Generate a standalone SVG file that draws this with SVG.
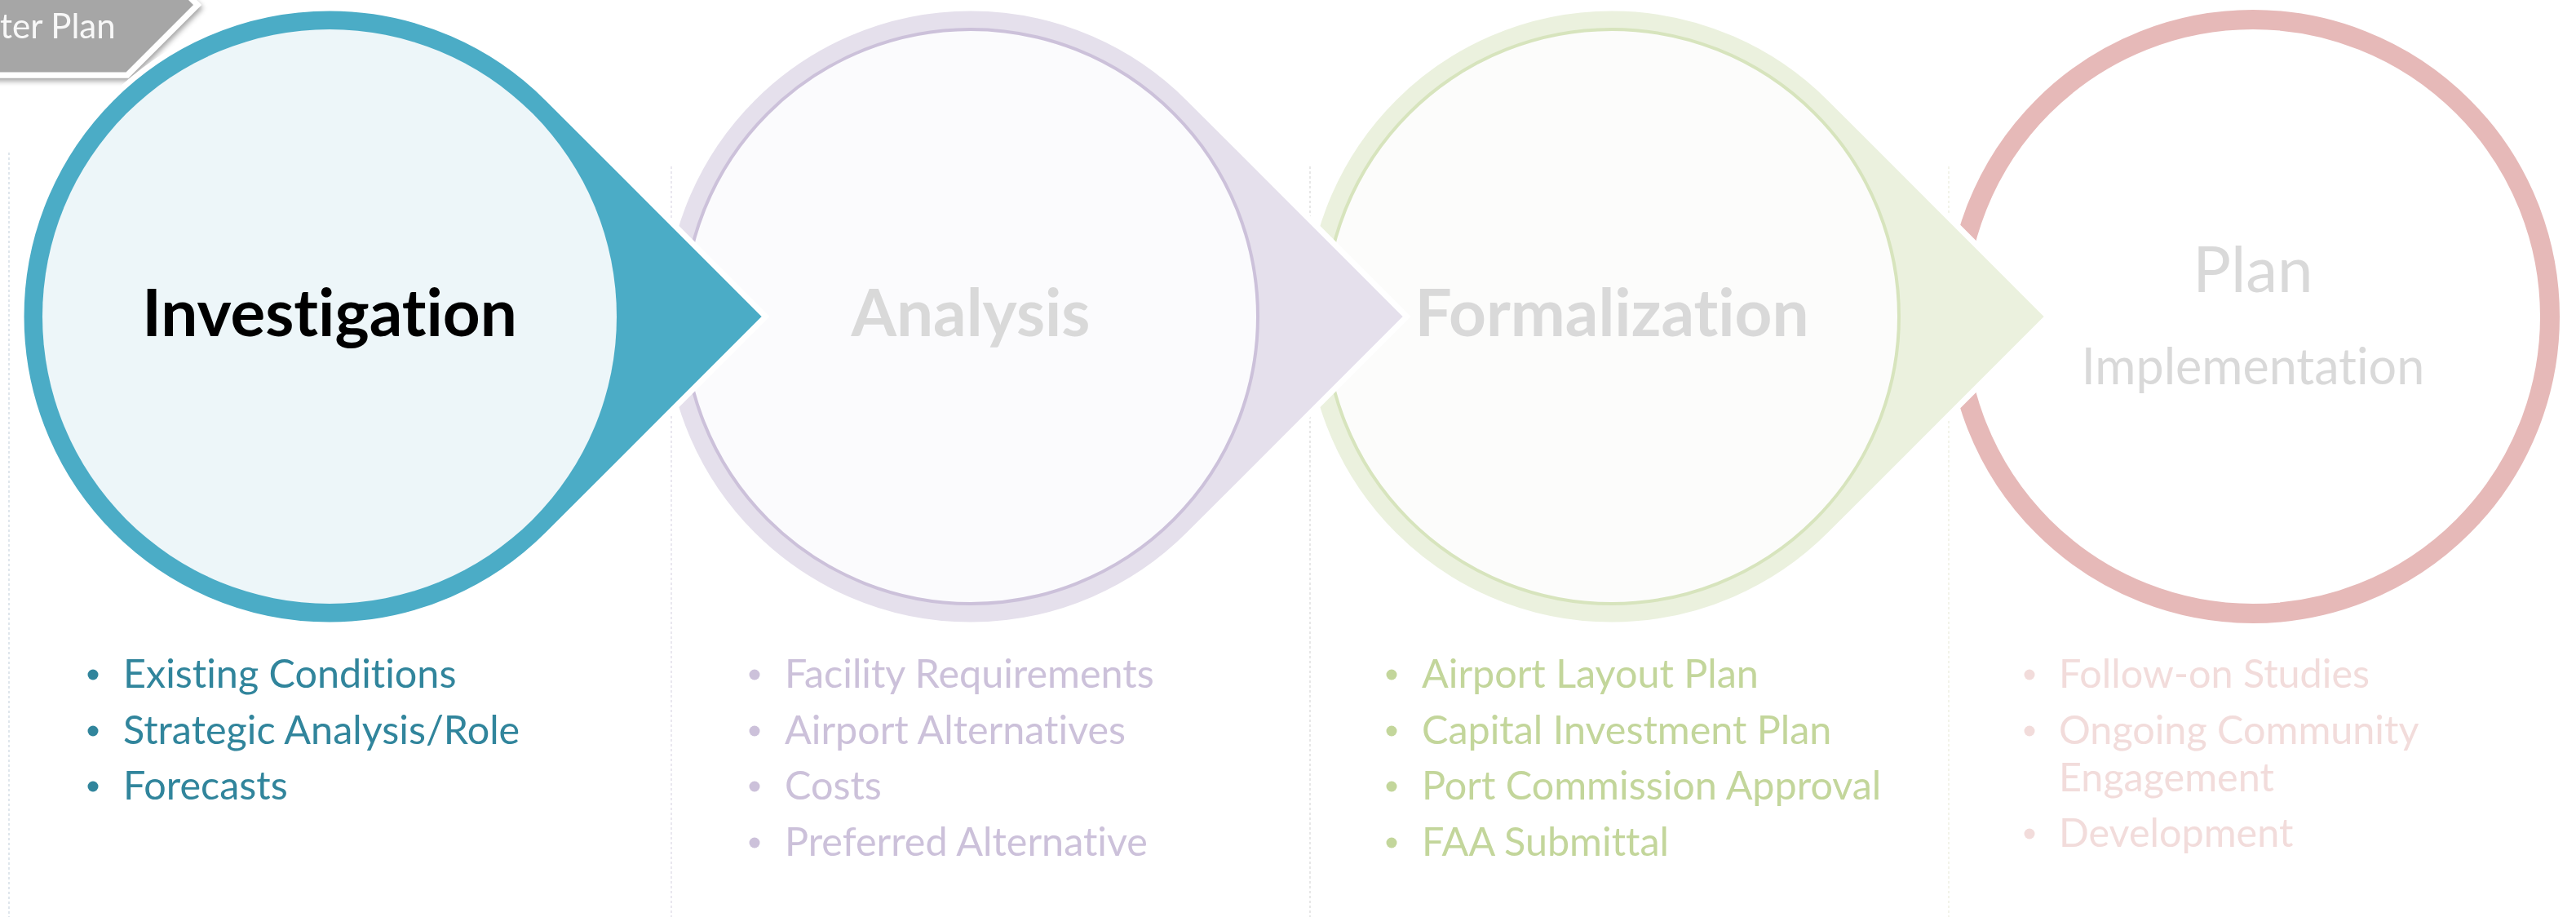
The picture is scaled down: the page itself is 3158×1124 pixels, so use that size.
<svg xmlns="http://www.w3.org/2000/svg" width="3158" height="1124" viewBox="0 0 3158 1124">
<style>
text{font-variant-ligatures:none}
.sep{fill:none;stroke-width:1.5;stroke-dasharray:3 3}
.drop{stroke:#FFFFFF;stroke-width:7;stroke-linejoin:miter}
.head{font-family:Lato,"Liberation Sans",sans-serif;font-weight:bold;font-size:80px;text-anchor:middle}
.list{font-family:Lato,"Liberation Sans",sans-serif;font-size:48.5px}
.inv{fill:#31859C}
.ana{fill:#CCC1DA}
.frm{fill:#C3D69B}
.pln{fill:#F2DCDB}
</style>
<defs>
<filter id="sh" x="-20%" y="-20%" width="140%" height="160%">
<feDropShadow dx="2" dy="4" stdDeviation="3" flood-color="#000000" flood-opacity="0.35"/>
</filter>
</defs>
<rect width="3158" height="1124" fill="#FFFFFF"/>
<g id="separators">
<line class="sep" x1="11" y1="187" x2="11" y2="1124" stroke="#D5DEE6"/>
<line class="sep" x1="823" y1="204" x2="823" y2="1124" stroke="#E2E0EA"/>
<line class="sep" x1="1606" y1="204" x2="1606" y2="1124" stroke="#E0E0E0"/>
<line class="sep" x1="2389" y1="204" x2="2389" y2="1124" stroke="#EEF0E2"/>
</g>
<g id="tag" filter="url(#sh)">
<polygon points="-10,-80 156,-80 242,6 156,92 -10,92" fill="#A6A6A6" stroke="#FFFFFF" stroke-width="7"/>
<text x="0" y="47" font-family="Lato,'Liberation Sans',sans-serif" font-size="42" fill="#F8F8F8">ter Plan</text>
</g>
<g id="node-plan">
<circle cx="2762" cy="388" r="364" fill="#FFFFFF" stroke="#E6B9B8" stroke-width="24"/>
<text x="2762" y="358" class="head" style="font-weight:normal;font-size:78px" fill="#D9D9D9">Plan</text>
<text x="2762" y="471" class="head" style="font-weight:normal;font-size:61px" fill="#D9D9D9">Implementation</text>
</g>
<g id="node-formalization">
<path class="drop" d="M2510.6,388 L2243.3,120.7 A378,378 0 1 0 2243.3,655.3 Z" fill="#EBF1DE"/>
<circle cx="1976" cy="388" r="352" fill="#FCFCFB" stroke="#D7E4BD" stroke-width="4"/>
<text x="1976" y="412" class="head" fill="#D9D9D9">Formalization</text>
</g>
<g id="node-analysis">
<path class="drop" d="M1724.6,388 L1457.3,120.7 A378,378 0 1 0 1457.3,655.3 Z" fill="#E5E0EC"/>
<circle cx="1190" cy="388" r="352" fill="#FBFBFD" stroke="#CCC1DA" stroke-width="4"/>
<text x="1190" y="412" class="head" fill="#D9D9D9">Analysis</text>
</g>
<g id="node-investigation">
<path class="drop" d="M938.6,388 L671.3,120.7 A378,378 0 1 0 671.3,655.3 Z" fill="#4BACC6"/>
<circle cx="404" cy="388" r="352" fill="#EDF6F9"/>
<text x="404" y="412" class="head" fill="#000000">Investigation</text>
</g>
<g id="list-investigation" class="list">
<circle class="inv" cx="114" cy="827" r="6.5"/>
<circle class="inv" cx="114" cy="896" r="6.5"/>
<circle class="inv" cx="114" cy="964" r="6.5"/>
<text class="inv" x="151" y="843">Existing Conditions</text>
<text class="inv" x="151" y="912">Strategic Analysis/Role</text>
<text class="inv" x="151" y="980">Forecasts</text>
</g>
<g id="list-analysis" class="list">
<circle class="ana" cx="925" cy="827" r="6.5"/>
<circle class="ana" cx="925" cy="896" r="6.5"/>
<circle class="ana" cx="925" cy="964" r="6.5"/>
<circle class="ana" cx="925" cy="1033" r="6.5"/>
<text class="ana" x="962" y="843">Facility Requirements</text>
<text class="ana" x="962" y="912">Airport Alternatives</text>
<text class="ana" x="962" y="980">Costs</text>
<text class="ana" x="962" y="1049">Preferred Alternative</text>
</g>
<g id="list-formalization" class="list">
<circle class="frm" cx="1706" cy="827" r="6.5"/>
<circle class="frm" cx="1706" cy="896" r="6.5"/>
<circle class="frm" cx="1706" cy="964" r="6.5"/>
<circle class="frm" cx="1706" cy="1033" r="6.5"/>
<text class="frm" x="1743" y="843">Airport Layout Plan</text>
<text class="frm" x="1743" y="912">Capital Investment Plan</text>
<text class="frm" x="1743" y="980">Port Commission Approval</text>
<text class="frm" x="1743" y="1049">FAA Submittal</text>
</g>
<g id="list-plan" class="list">
<circle class="pln" cx="2488" cy="827" r="6.5"/>
<circle class="pln" cx="2488" cy="896" r="6.5"/>
<circle class="pln" cx="2488" cy="1022" r="6.5"/>
<text class="pln" x="2524" y="843">Follow-on Studies</text>
<text class="pln" x="2524" y="912">Ongoing Community</text>
<text class="pln" x="2524" y="970">Engagement</text>
<text class="pln" x="2524" y="1038">Development</text>
</g>
</svg>
